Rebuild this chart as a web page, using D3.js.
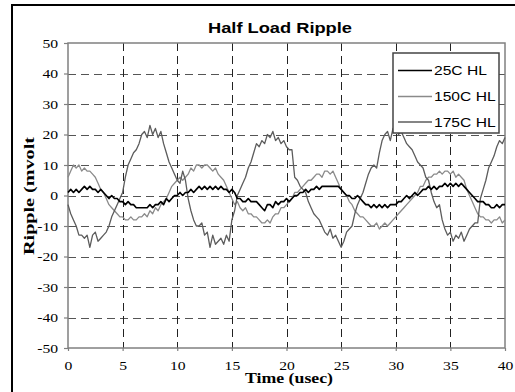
<!DOCTYPE html>
<html><head><meta charset="utf-8">
<script src="https://cdn.jsdelivr.net/npm/d3@7"></script>
<style>
html,body{margin:0;padding:0;background:#fff;}
svg{display:block;}
</style></head><body>
<script>
// Chart text
const chartTitle = "Half Load Ripple";
const xLabel = "Time (usec)";
const yLabel = "Ripple (mvolt";
const seriesNames = ["25C HL", "150C HL", "175C HL"];
const seriesColors = ["#000000", "#8a8a8a", "#5c5c5c"];
const seriesWidths = [1.6, 1.3, 1.3];

// Axis ticks
const xTicks = [0, 5, 10, 15, 20, 25, 30, 35, 40];
const yTicks = [-50, -40, -30, -20, -10, 0, 10, 20, 30, 40, 50];

// Samples every 0.25 usec from 0 to 40 usec (mV)
const sampleStep = 0.25;
const s25 = [
  1, 2, 1, 2,   1, 2, 3, 2,   3, 2, 2, 1,   2, 1, 0, -1,
  0, -1, -1, -2, -2, -3, -2, -3, -3, -4, -4, -4, -4, -4, -3, -4,
  -3, -3, -2, -3, -1, -2, -1, 0,  0, 1, 0, 1,   1, 2, 1, 2,
  3, 2, 3, 2,   3, 2, 3, 2,   3, 2, 2, 1,   2, 1, -1, -1,
  -2, -2, -1, -2, -2, -2, -3, -4, -5, -3, -3, -4, -2, -3, -2, -2,
  -1, -2, -1, 0,  0, 1, 1, 2,   1, 2, 2, 3,   2, 3, 3, 3,
  3, 3, 3, 3,   2, 1, 0, 0,   -1, -1, 0, -1, -2, -3, -3, -4,
  -3, -4, -3, -4, -3, -4, -3, -3, -3, -2, -2, -1, 0, -1, 0, 1,
  0, 1, 2, 2,   3, 2, 3, 2,   3, 3, 4, 3,   4, 3, 4, 3,
  4, 3, 2, 1,   0, -1, -2, -2, -2, -3, -3, -4, -4, -3, -4, -3,
  -3
];
const s150 = [
  6, 8, 10, 9,  10, 8, 9, 8,   8, 7, 6, 4,   2, 1, -1, -3,
  -4, -5, -6, -7, -7, -8, -8, -7, -8, -8, -7, -7, -6, -7, -5, -6,
  -4, -5, -3, -2, -1, 1, 3, 4,   5, 6, 5, 6,   7, 9, 8, 10,
  10, 9, 10, 10, 9, 8, 9, 7,   6, 5, 3, 1,   -1, -3, -2, -4,
  -5, -4, -6, -6, -7, -7, -8, -9, -9, -8, -9, -7, -6, -6, -4, -4,
  -3, -2, -1, 1,  1, 2, 3, 4,   5, 5, 6, 7,   7, 6, 8, 8,
  7, 8, 6, 4,   2, 1, 0, -2,  -3, -5, -6, -7, -7, -8, -9, -10,
  -10, -9, -11, -10, -9, -10, -9, -8, -7, -6, -5, -4, -3, -2, -1, 0,
  1, 3, 3, 5,   6, 6, 7, 7,   8, 7, 8, 8,   7, 8, 6, 7,
  6, 5, 2, 0,   -2, -4, -6, -7, -7, -8, -8, -9, -8, -8, -7, -9,
  -8
];
const s175 = [
  -3, -6, -8, -10, -13, -13, -14, -13, -17, -13, -12, -15, -14, -13, -12, -10,
  -7, -5, -3, -1, 1, 6, 10, 12,  14, 15, 17, 20,  21, 19, 23, 20,
  22, 19, 21, 17, 14, 11, 9, 7,  5, 4, 8, 5,   -1, -5, -8, -10,
  -10, -9, -13, -12, -17, -13, -16, -15, -14, -16, -13, -15, -8, -5, 0, 2,
  4, 6, 9, 11,  14, 17, 16, 18, 17, 20, 19, 21, 18, 19, 17, 18,
  16, 15, 15, 6, 5, 3, 2, 1,   -2, -4, -6, -7, -8, -10, -12, -13,
  -11, -14, -13, -15, -17, -15, -12, -11, -10, -6, -3, -1, 1, 4, 7, 9,
  10, 9, 14, 18, 20, 21, 18, 22, 23, 20, 21, 19, 17, 16, 15, 13,
  11, 10, 9, 6,  5, 1, -2, -4,  -3, -8, -11, -13, -12, -15, -13, -14,
  -12, -15, -13, -11, -10, -9, -9, -1, 2, 5, 9, 11, 13, 16, 18, 17,
  19
];
const seriesValues = [s25, s150, s175];

const W = 515, H = 392;
const plot = {left: 68, top: 43, right: 505, bottom: 348};

const svg = d3.select("body").append("svg").attr("width", W).attr("height", H);

// Stretch text horizontally by a factor, keeping its anchor
function stretch(sel, k) {
  sel.each(function() {
    const w = this.getComputedTextLength();
    d3.select(this).attr("textLength", w * k).attr("lengthAdjust", "spacingAndGlyphs");
  });
}

// Outer frame (left and top edges are visible)
svg.append("rect").attr("x", 12).attr("y", 5).attr("width", 520).attr("height", 400)
  .attr("fill", "#fff").attr("stroke", "#000").attr("stroke-width", 2);

const x = d3.scaleLinear().domain([0, 40]).range([plot.left, plot.right]);
const y = d3.scaleLinear().domain([-50, 50]).range([plot.bottom, plot.top]);

// Dashed grid
const grid = svg.append("g");
grid.selectAll("line.h").data(yTicks.filter(d => d > -50 && d < 50)).join("line")
  .attr("x1", plot.left).attr("x2", plot.right)
  .attr("y1", d => Math.round(y(d)) + 0.5).attr("y2", d => Math.round(y(d)) + 0.5)
  .attr("stroke", "#555").attr("stroke-width", 1.2).attr("stroke-dasharray", "8,5");
grid.selectAll("line.v").data(xTicks.filter(d => d > 0 && d < 40)).join("line")
  .attr("x1", d => Math.round(x(d)) + 0.5).attr("x2", d => Math.round(x(d)) + 0.5)
  .attr("y1", plot.top).attr("y2", plot.bottom)
  .attr("stroke", "#222").attr("stroke-width", 1).attr("stroke-dasharray", "8,5");

// Plot area border
svg.append("rect").attr("x", plot.left).attr("y", plot.top)
  .attr("width", plot.right - plot.left).attr("height", plot.bottom - plot.top)
  .attr("fill", "none").attr("stroke", "#808080").attr("stroke-width", 1.5);

// Axes
const xAxis = svg.append("g").attr("transform", `translate(0,${plot.bottom})`)
  .call(d3.axisBottom(x).tickValues(xTicks).tickFormat(d => String(d)).tickSize(3).tickPadding(10));
const yAxis = svg.append("g").attr("transform", `translate(${plot.left},0)`)
  .call(d3.axisLeft(y).tickValues(yTicks).tickFormat(d => String(d)).tickSize(4).tickPadding(6));
[xAxis, yAxis].forEach(a => {
  a.select(".domain").remove();
  a.selectAll(".tick line").attr("stroke", "#808080").attr("stroke-width", 1.2);
  a.selectAll(".tick text").attr("font-family", "Liberation Serif, Times New Roman, serif")
    .attr("font-size", 12.5).attr("fill", "#000");
});
stretch(xAxis.selectAll(".tick text"), 1.25);
stretch(yAxis.selectAll(".tick text"), 1.25);

// Series lines
const line = d3.line().x((d, i) => x(i * sampleStep)).y(d => y(d));
[1, 2, 0].forEach(k => {
  svg.append("path").datum(seriesValues[k])
    .attr("d", line).attr("fill", "none")
    .attr("stroke", seriesColors[k]).attr("stroke-width", seriesWidths[k])
    .attr("stroke-linejoin", "round");
});

// Title
svg.append("text").attr("x", 280).attr("y", 33).attr("text-anchor", "middle")
  .attr("font-family", "Liberation Sans, Arial, sans-serif").attr("font-weight", "bold")
  .attr("font-size", 14).text(chartTitle)
  .call(s => s.attr("textLength", 144).attr("lengthAdjust", "spacingAndGlyphs"));

// Axis titles
svg.append("text").attr("x", 289).attr("y", 383).attr("text-anchor", "middle")
  .attr("font-family", "Liberation Serif, Times New Roman, serif").attr("font-weight", "bold")
  .attr("font-size", 15).text(xLabel)
  .call(s => s.attr("textLength", 88).attr("lengthAdjust", "spacingAndGlyphs"));
svg.append("text").attr("transform", "translate(34,196) rotate(-90)").attr("text-anchor", "middle")
  .attr("font-family", "Liberation Serif, Times New Roman, serif").attr("font-weight", "bold")
  .attr("font-size", 15).text(yLabel)
  .call(s => s.attr("textLength", 118).attr("lengthAdjust", "spacingAndGlyphs"));

// Legend
const lg = svg.append("g");
lg.append("rect").attr("x", 393).attr("y", 53).attr("width", 106).attr("height", 80)
  .attr("fill", "#fff").attr("stroke", "#444").attr("stroke-width", 1.5);
const rowY = [70.5, 96.5, 122];
seriesNames.forEach((name, k) => {
  lg.append("line").attr("x1", 398).attr("x2", 432).attr("y1", rowY[k]).attr("y2", rowY[k])
    .attr("stroke", seriesColors[k]).attr("stroke-width", seriesWidths[k]);
  lg.append("text").attr("x", 434).attr("y", rowY[k] + 4.5)
    .attr("font-family", "Liberation Sans, Arial, sans-serif").attr("font-size", 12)
    .text(name).call(s => stretch(s, 1.3));
});
</script>
</body></html>
